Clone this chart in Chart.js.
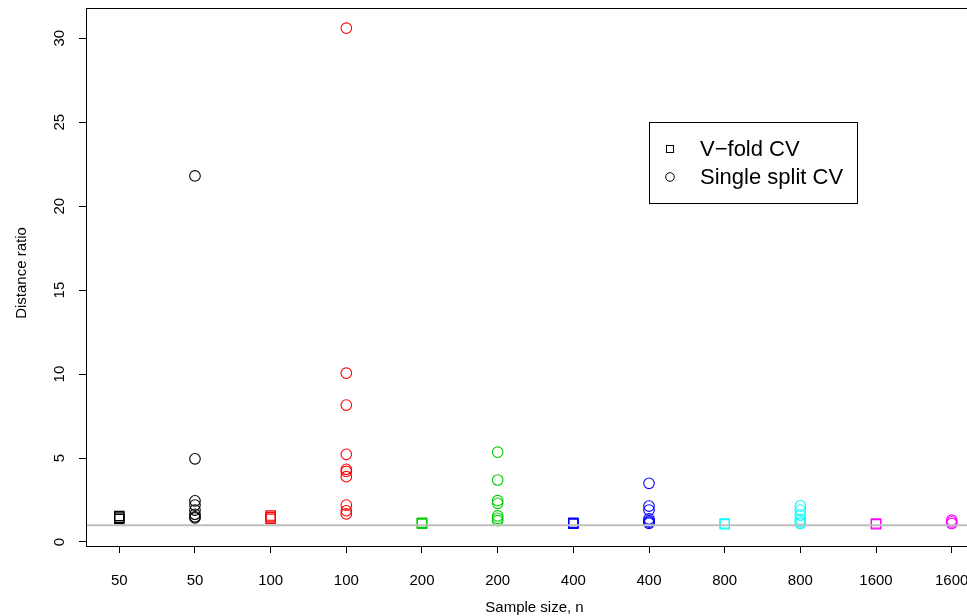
<!DOCTYPE html>
<html>
<head>
<meta charset="utf-8">
<script src="https://cdn.jsdelivr.net/npm/chart.js@4.4.1/dist/chart.umd.min.js"></script>
<style>
  html, body { margin: 0; padding: 0; background: #fff; overflow: hidden; }
  #wrap { width: 1000px; height: 616px; }
</style>
</head>
<body>
<div id="wrap"><canvas id="c" width="1000" height="616"></canvas></div>
<script>
// ---- data ----
const categories = ['50', '50', '100', '100', '200', '200', '400', '400', '800', '800', '1600', '1600'];
const sampleSizes = ['50', '100', '200', '400', '800', '1600'];
const groupColors = ['#000000', '#FF0000', '#00CD00', '#0000FF', '#00FFFF', '#FF00FF'];
const yTicks = [0, 5, 10, 15, 20, 25, 30];

const vfold50 = [1.37, 1.45, 1.55];
const single50 = [21.8, 4.95, 2.45, 2.2, 1.9, 1.65, 1.5, 1.43];
const vfold100 = [1.38, 1.48, 1.57];
const single100 = [30.6, 10.05, 8.15, 5.22, 4.33, 4.2, 3.89, 2.2, 1.86, 1.67];
const vfold200 = [1.08, 1.12, 1.15];
const single200 = [5.35, 3.69, 2.46, 2.3, 1.55, 1.41, 1.27];
const vfold400 = [1.08, 1.12, 1.15];
const single400 = [3.49, 2.14, 1.9, 1.37, 1.25, 1.18, 1.11];
const vfold800 = [1.05, 1.1];
const single800 = [2.15, 1.9, 1.6, 1.35, 1.2, 1.1];
const vfold1600 = [1.05, 1.1];
const single1600 = [1.3, 1.2, 1.1];
const referenceLine = 1;

const vfoldGroups = [vfold50, vfold100, vfold200, vfold400, vfold800, vfold1600];
const singleGroups = [single50, single100, single200, single400, single800, single1600];

// ---- build datasets ----
function build(groups, offset) {
  const pts = [], cols = [];
  groups.forEach((vals, i) => {
    vals.forEach(v => { pts.push({ x: 2 * i + 1 + offset, y: v }); cols.push(groupColors[i]); });
  });
  return { pts, cols };
}
const vf = build(vfoldGroups, 0);
const ss = build(singleGroups, 1);

const FONT = "'Liberation Sans', Arial, Helvetica, sans-serif";

const decor = {
  id: 'decor',
  afterDraw(chart) {
    const ctx = chart.ctx;
    const a = chart.chartArea;
    const ys = chart.scales.y;
    ctx.save();
    // box
    ctx.strokeStyle = '#000';
    ctx.lineWidth = 1;
    ctx.strokeRect(Math.round(a.left) + 0.5, Math.round(a.top) + 0.5, Math.round(a.right - a.left), Math.round(a.bottom - a.top));
    // y tick labels (rotated)
    ctx.fillStyle = '#000';
    ctx.font = '15px ' + FONT;
    ctx.textAlign = 'center';
    ctx.textBaseline = 'middle';
    yTicks.forEach(v => {
      const y = ys.getPixelForValue(v);
      ctx.save();
      ctx.translate(60, y);
      ctx.rotate(-Math.PI / 2);
      ctx.fillText(String(v), 0, 0);
      ctx.restore();
    });
    // y title
    ctx.save();
    ctx.translate(22, (a.top + a.bottom) / 2 - 4);
    ctx.rotate(-Math.PI / 2);
    ctx.fillText('Distance ratio', 0, 0);
    ctx.restore();
    // x title
    ctx.fillText('Sample size, n', (a.left + a.right) / 2 - 1, 608);
    // legend
    const lx = 649.5, ly = 122.5, lw = 208, lh = 81;
    ctx.fillStyle = '#fff';
    ctx.fillRect(lx, ly, lw, lh);
    ctx.strokeStyle = '#000';
    ctx.strokeRect(lx, ly, lw, lh);
    ctx.strokeRect(666.5, 145.5, 7, 7);
    ctx.beginPath();
    ctx.arc(670, 177, 4.3, 0, Math.PI * 2);
    ctx.stroke();
    ctx.fillStyle = '#000';
    ctx.font = '22px ' + FONT;
    ctx.textAlign = 'left';
    ctx.textBaseline = 'middle';
    ctx.fillText('V\u2212fold CV', 700, 150);
    ctx.fillText('Single split CV', 700, 178);
    ctx.restore();
  }
};

new Chart(document.getElementById('c'), {
  type: 'scatter',
  data: {
    datasets: [
      {
        label: 'V\u2212fold CV',
        data: vf.pts,
        pointStyle: 'rect',
        pointRadius: 6.6,
        pointBorderWidth: 1.2,
        pointBorderColor: vf.cols,
        pointBackgroundColor: 'rgba(0,0,0,0)',
        order: 2
      },
      {
        label: 'Single split CV',
        data: ss.pts,
        pointStyle: 'circle',
        pointRadius: 5.3,
        pointBorderWidth: 1.1,
        pointBorderColor: ss.cols,
        pointBackgroundColor: 'rgba(0,0,0,0)',
        order: 2
      },
      {
        type: 'line',
        label: 'ref',
        data: [{ x: 0, y: referenceLine }, { x: 13, y: referenceLine }],
        borderColor: '#BEBEBE',
        borderWidth: 2,
        pointRadius: 0,
        order: 1
      }
    ]
  },
  options: {
    responsive: false,
    animation: false,
    events: [],
    layout: { padding: { top: 8, right: 15, left: 0, bottom: 0 } },
    plugins: { legend: { display: false }, tooltip: { enabled: false } },
    scales: {
      x: {
        type: 'linear',
        min: 0.56,
        max: 12.44,
        afterBuildTicks: s => { s.ticks = categories.map((c, i) => ({ value: i + 1 })); },
        afterFit: s => { s.height = 70; },
        ticks: {
          callback: v => categories[Math.round(v) - 1] || '',
          font: { size: 15, family: FONT },
          color: '#000',
          padding: 19,
          autoSkip: false,
          maxRotation: 0,
          minRotation: 0
        },
        grid: { drawOnChartArea: false, drawTicks: true, tickLength: 7, color: '#000', tickWidth: 1 },
        border: { display: true, color: '#000', width: 1 }
      },
      y: {
        type: 'linear',
        min: -0.24,
        max: 31.8,
        afterBuildTicks: s => { s.ticks = yTicks.map(v => ({ value: v })); },
        afterFit: s => { s.width = 86; },
        ticks: { callback: () => '', padding: 0 },
        grid: { drawOnChartArea: false, drawTicks: true, tickLength: 7, color: '#000', tickWidth: 1 },
        border: { display: true, color: '#000', width: 1 }
      }
    }
  },
  plugins: [decor]
});
</script>
</body>
</html>
